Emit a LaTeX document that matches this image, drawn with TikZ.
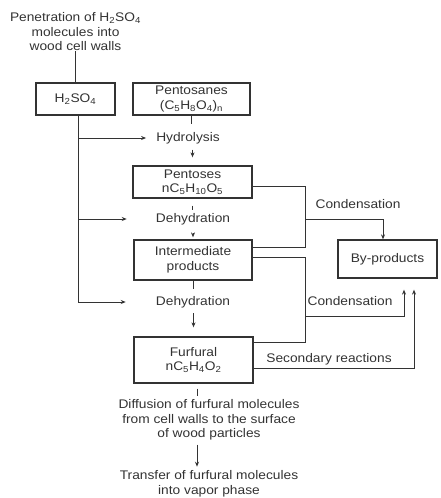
\documentclass[tikz,border=0pt]{standalone}
\usepackage{fontspec}
\setmainfont{Liberation Sans}[FakeStretch=1.1]
\usetikzlibrary{arrows.meta}
\definecolor{ink}{gray}{0.2}
\begin{document}
\begin{tikzpicture}[x=1pt,y=1pt,
  every node/.style={text=ink, font=\fontsize{12.5}{14.5}\selectfont},
  box/.style={draw=ink, line width=1.3pt, align=center, inner sep=0pt},
  lbl/.style={align=center, inner sep=0pt},
  conn/.style={draw=ink, line width=0.8pt},
  arr/.style={conn, -{Stealth[length=5pt,width=4pt]}}]
\useasboundingbox (0,0) rectangle (441,-498);
% nodes
\node[lbl] (pen) at (75.5,-32) {Penetration of H\textsubscript{2}SO\textsubscript{4}\\molecules into\\wood cell walls};
\node[box, minimum width=79, minimum height=32] (h2so4) at (75.5,-99) {H\textsubscript{2}SO\textsubscript{4}};
\node[box, minimum width=117, minimum height=32] (pentosanes) at (191.5,-99) {Pentosanes\\(C\textsubscript{5}H\textsubscript{8}O\textsubscript{4})\textsubscript{n}};
\node[lbl] (hydro) at (188,-138) {Hydrolysis};
\node[box, minimum width=119, minimum height=32] (pentoses) at (192.5,-182) {Pentoses\\nC\textsubscript{5}H\textsubscript{10}O\textsubscript{5}};
\node[lbl] (dehyd1) at (193,-219) {Dehydration};
\node[box, minimum width=118, minimum height=40] (inter) at (193,-260) {Intermediate\\products};
\node[lbl] (dehyd2) at (193,-302) {Dehydration};
\node[box, minimum width=119, minimum height=46] (furfural) at (193.5,-360) {Furfural\\nC\textsubscript{5}H\textsubscript{4}O\textsubscript{2}};
\node[lbl] (diff) at (209,-420) {Diffusion of furfural molecules\\from cell walls to the surface\\of wood particles};
\node[lbl] (transfer) at (209,-484) {Transfer of furfural molecules\\into vapor phase};
\node[box, minimum width=99, minimum height=38] (byprod) at (387.5,-259) {By-products};
\node[lbl] (cond1) at (358,-204) {Condensation};
\node[lbl] (cond2) at (350,-301) {Condensation};
\node[lbl] (second) at (329,-359) {Secondary reactions};
% main column
\draw[conn] (pen.south) -- (h2so4.north);
\draw[conn, shorten >=8pt] (pentosanes.south) -- (hydro.north -| pentosanes.south);
\draw[arr, shorten <=5.5pt, shorten >=8pt] (hydro.south -| pentoses.north) -- (pentoses.north);
\draw[conn, shorten <=7pt, shorten >=2.5pt] (pentoses.south) -- (dehyd1.north -| pentoses.south);
\draw[arr, shorten <=8pt, shorten >=2pt] (dehyd1.south -| inter.north) -- (inter.north);
\draw[conn, shorten >=7pt] (inter.south) -- (dehyd2.north -| inter.south);
\draw[arr, shorten <=5pt, shorten >=9pt] (dehyd2.south -| furfural.north) -- (furfural.north);
\coordinate (fx) at ([xshift=3.5pt]furfural.south);
\draw[conn, shorten <=5pt, shorten >=3pt] (fx) -- (fx |- diff.north);
\draw[arr, shorten <=4pt, shorten >=4pt] (fx |- diff.south) -- (fx |- transfer.north);
% acid feed lines
\coordinate (ax) at ([xshift=2.5pt]h2so4.south);
\coordinate (a3) at (ax |- dehyd2);
\draw[conn] (ax) -- (a3);
\draw[arr, shorten >=10pt] (ax |- hydro) -- (hydro.west);
\draw[arr, shorten >=29pt] (ax |- dehyd1) -- (dehyd1.west);
\draw[arr, shorten >=30pt] (a3) -- (dehyd2.west);
% condensation brackets
\coordinate (p1) at ([yshift=-4pt]pentoses.east);
\coordinate (i1) at ([yshift=13pt]inter.east);
\coordinate (i2) at ([yshift=3pt]inter.east);
\coordinate (f1) at ([yshift=18pt]furfural.east);
\coordinate (f2) at ([yshift=-8pt]furfural.east);
\coordinate (bx1) at (305,0);
\draw[conn] (p1) -- (p1 -| bx1) -- (i1 -| bx1) -- (i1);
\coordinate (j1) at (bx1 |- 0,-219);
\draw[arr] (j1) -| ([xshift=-4.5pt]byprod.north);
\draw[conn] (i2) -- (i2 -| bx1) -- (f1 -| bx1) -- (f1);
\coordinate (j2) at (bx1 |- 0,-316);
\draw[arr, shorten >=11pt] (j2) -| ([xshift=16.5pt]byprod.south);
\draw[arr, shorten >=11pt] (f2) -| ([xshift=26.5pt]byprod.south);
\end{tikzpicture}
\end{document}
